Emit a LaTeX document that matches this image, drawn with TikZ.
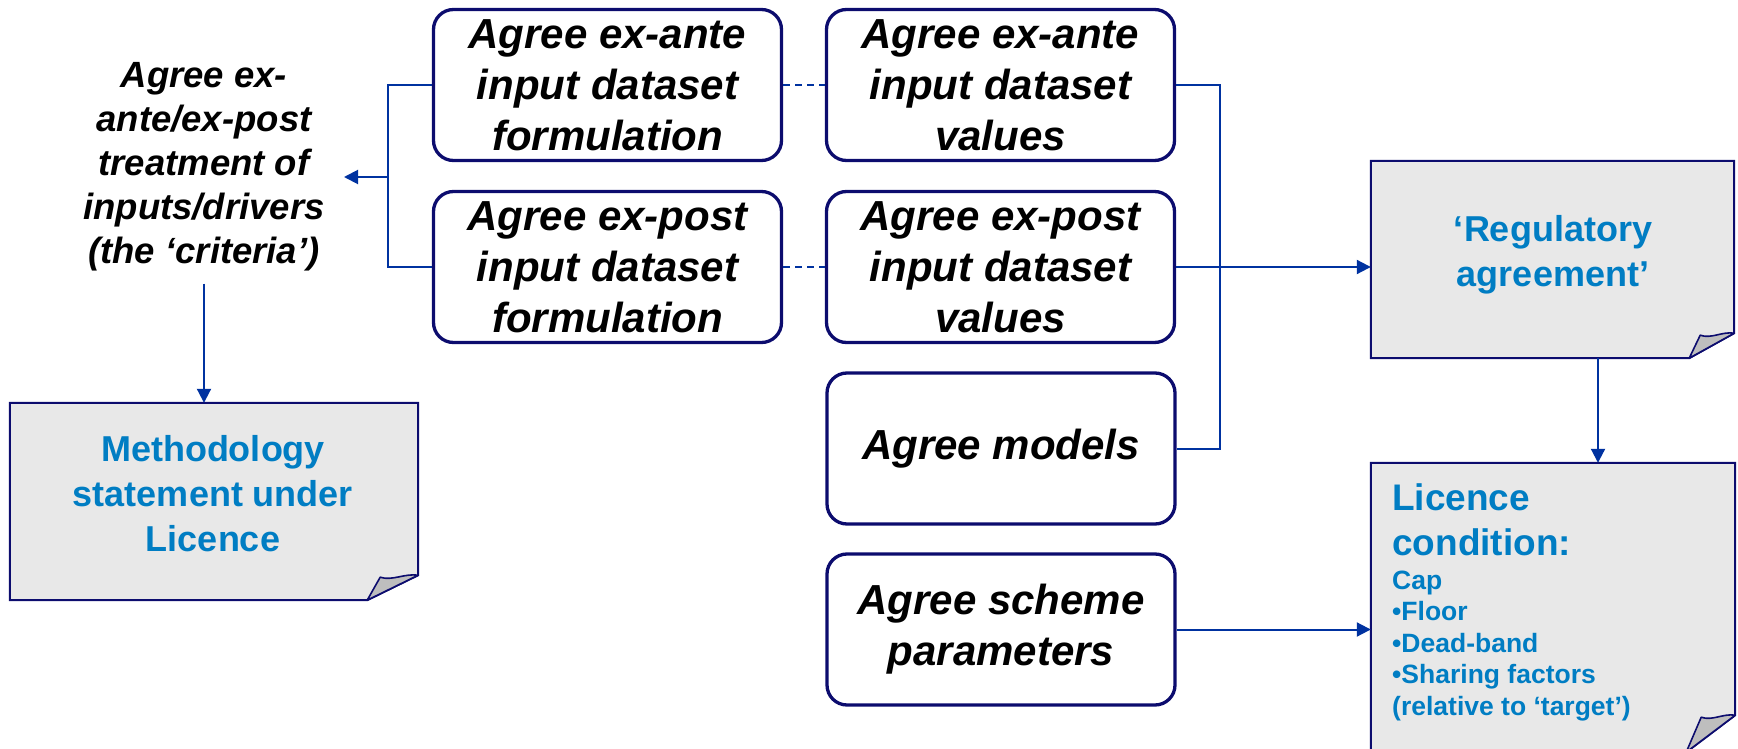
\documentclass[tikz,border=0pt]{standalone}
\usepackage{fontspec}
\setmainfont{Liberation Sans}
\usetikzlibrary{arrows.meta,calc}
\definecolor{navy}{RGB}{12,12,110}
\definecolor{connblue}{RGB}{0,50,160}
\definecolor{txtblue}{RGB}{0,125,195}
\definecolor{docfill}{RGB}{232,232,232}
\definecolor{foldfill}{RGB}{190,190,190}
\begin{document}
\begin{tikzpicture}[x=1pt,y=-1pt,
  task/.style={draw=navy,line width=3.3pt,rounded corners=20pt,minimum width=348pt,minimum height=151pt,inner sep=0pt,align=center,font=\fontsize{42}{51}\selectfont\bfseries\itshape},
  docbox/.style={inner sep=0pt},
  docline/.style={draw=navy,line width=2pt,fill=docfill},
  foldline/.style={draw=navy,line width=1.6pt,fill=foldfill,line join=round},
  conn/.style={draw=connblue,line width=2pt},
  arr/.style={conn,-{Triangle[length=14pt,width=14pt]}},
  dashconn/.style={conn,dash pattern=on 7pt off 5pt},
  bluebig/.style={text=txtblue,font=\fontsize{36}{45}\selectfont\bfseries,align=center,inner sep=0pt},
  licbig/.style={anchor=north west,text=txtblue,font=\fontsize{37}{45}\selectfont\bfseries,align=left,inner sep=0pt},
  licsmall/.style={anchor=north west,text=txtblue,font=\fontsize{26.5}{31.5}\selectfont\bfseries,align=left,inner sep=0pt},
]
\useasboundingbox (0,0) rectangle (1738,749);

% task boxes
\node[task] (f1) at (607.5,85) {Agree ex-ante\\input dataset\\formulation};
\node[task] (f2) at (607.5,267) {Agree ex-post\\input dataset\\formulation};
\node[task] (v1) at (1000.5,85) {Agree ex-ante\\input dataset\\values};
\node[task] (v2) at (1000.5,267) {Agree ex-post\\input dataset\\values};
\node[task] (mo) at (1001,448.5) {Agree models};
\node[task] (sc) at (1001,629.5) {Agree scheme\\parameters};

% criteria text
\node[font=\fontsize{36.5}{44}\selectfont\bfseries\itshape,align=center,inner sep=12pt] (crit) at (204,167)
  {Agree ex-\\ante/ex-post\\treatment of\\inputs/drivers\\(the ‘criteria’)};

% document boxes
\node[docbox,minimum width=408pt,minimum height=197pt] (meth) at (214,501.5) {};
\path[docline] (meth.north west) -- (meth.north east) -- ($(meth.south east)+(0,-25)$)
  -- ($(meth.south east)+(-51,0)$) -- (meth.south west) -- cycle;
\path[foldline] ($(meth.south east)+(-51,0)$) -- ($(meth.south east)+(-38,-23)$)
  .. controls ($(meth.south east)+(-26,-19)$) and ($(meth.south east)+(-14,-27)$) .. ($(meth.south east)+(0,-25)$) -- cycle;
\node[bluebig] (methT) at (213,494) {Methodology\\statement under\\Licence};

\node[docbox,minimum width=363pt,minimum height=197pt] (reg) at (1552.5,259.5) {};
\path[docline] (reg.north west) -- (reg.north east) -- ($(reg.south east)+(0,-25)$)
  -- ($(reg.south east)+(-45,0)$) -- (reg.south west) -- cycle;
\path[foldline] ($(reg.south east)+(-45,0)$) -- ($(reg.south east)+(-34,-23)$)
  .. controls ($(reg.south east)+(-23,-19)$) and ($(reg.south east)+(-12,-27)$) .. ($(reg.south east)+(0,-25)$) -- cycle;
\node[bluebig] (regT) at (1553,255) {‘Regulatory\\agreement’};

\node[docbox,minimum width=364pt,minimum height=289pt] (lic) at (1553,607.5) {};
\path[docline] (lic.north west) -- (lic.north east) -- ($(lic.south east)+(0,-37)$)
  -- ($(lic.south east)+(-49,0)$) -- (lic.south west) -- cycle;
\path[foldline] ($(lic.south east)+(-49,0)$) -- ($(lic.south east)+(-34,-35)$)
  .. controls ($(lic.south east)+(-23,-31)$) and ($(lic.south east)+(-12,-39)$) .. ($(lic.south east)+(0,-37)$) -- cycle;
\node[licbig] (licA) at (1392,483.5) {Licence\\condition:};
\node[licsmall] (licB) at (1392,570.5) {Cap\\•Floor\\•Dead-band\\•Sharing factors\\(relative to ‘target’)};

% connectors
\coordinate (jl) at (388,177);
\coordinate (critin) at (344,177);
\draw[conn] (f1.west) -| (jl) |- (f2.west);
\draw[arr] (jl) -- (critin);
\draw[arr] (crit.south) -- (crit.south |- meth.north);
\draw[dashconn] (f1.east) -- (v1.west);
\draw[dashconn] (f2.east) -- (v2.west);
\coordinate (jr) at (1220,267);
\draw[conn] (v1.east) -| (jr) |- (mo.east);
\draw[arr] (v2.east) -- (v2.east -| reg.west);
\coordinate (rb) at ($(reg.south)+(45.5,0)$);
\draw[arr] (rb) -- (rb |- lic.north);
\draw[arr] (sc.east) -- (sc.east -| lic.west);
\end{tikzpicture}
\end{document}
